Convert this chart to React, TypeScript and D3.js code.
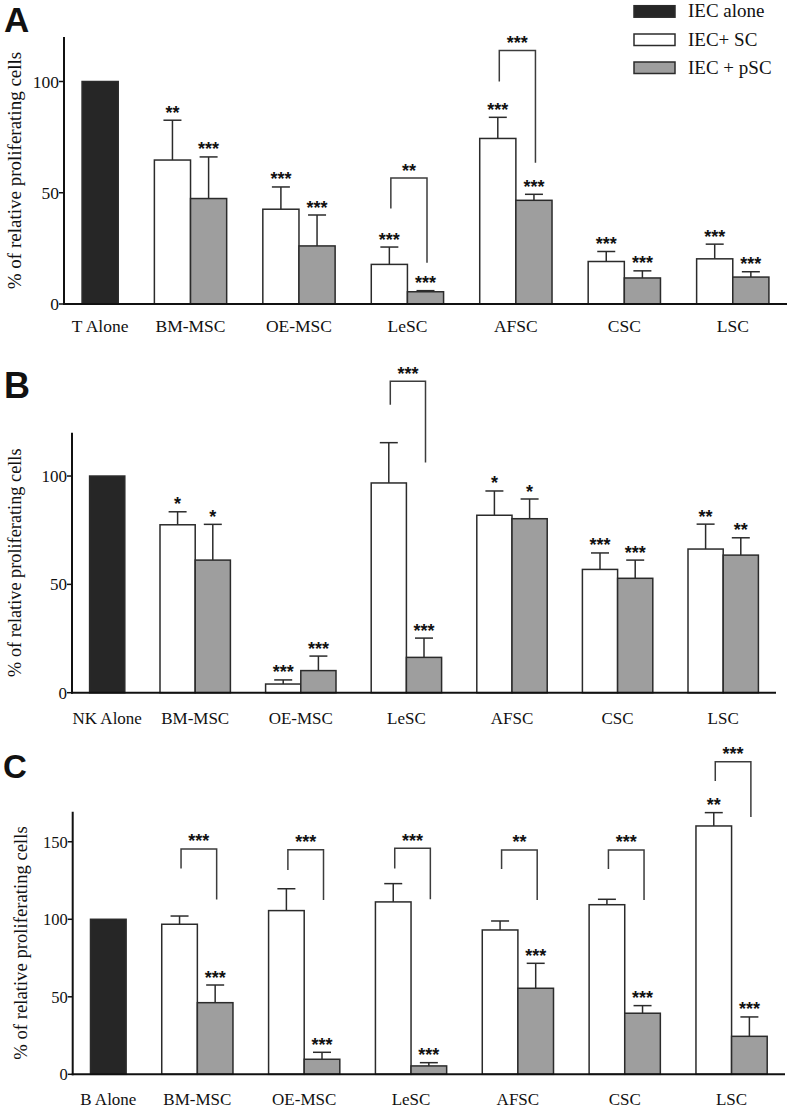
import React from 'react';
import * as d3 from 'd3';

// ---------- data ----------
const categories = ['BM-MSC', 'OE-MSC', 'LeSC', 'AFSC', 'CSC', 'LSC'];
const aloneLabels = ['T Alone', 'NK Alone', 'B Alone'];
const aloneValue = 100;
const legendLabels = ['IEC alone', 'IEC+ SC', 'IEC + pSC'];

// Panel A (T cells)
const scA = [64.7, 42.6, 17.8, 74.4, 19.1, 20.3];
const scErrA = [17.9, 10.0, 7.8, 9.5, 4.5, 6.6];
const pscA = [47.4, 26.1, 5.5, 46.6, 11.7, 12.1];
const pscErrA = [18.7, 13.9, 0.5, 2.7, 3.2, 2.4];
const scStarsA = ['**', '***', '***', '***', '***', '***'];
const pscStarsA = ['***', '***', '***', '***', '***', '***'];
const bracketsA = [
  { cat: 'LeSC', top: 56.6, left: 42.9, right: 18.5, label: '**' },
  { cat: 'AFSC', top: 113.9, left: 100.0, right: 63.5, label: '***' },
];
const ticksA = [0, 50, 100];

// Panel B (NK cells)
const scB = [77.5, 4.0, 96.8, 81.9, 56.9, 66.3];
const scErrB = [6.0, 1.9, 18.6, 11.2, 7.6, 11.5];
const pscB = [61.2, 10.2, 16.3, 80.3, 52.8, 63.5];
const pscErrB = [16.5, 6.7, 8.9, 9.1, 8.4, 8.0];
const scStarsB = ['*', '***', '', '*', '***', '**'];
const pscStarsB = ['*', '***', '***', '*', '***', '**'];
const bracketsB = [{ cat: 'LeSC', top: 143.7, left: 132.9, right: 106.3, label: '***' }];
const ticksB = [0, 50, 100];

// Panel C (B cells)
const scC = [96.8, 105.6, 111.2, 93.1, 109.4, 160.2];
const scErrC = [5.3, 14.1, 11.8, 5.8, 3.5, 8.6];
const pscC = [46.2, 9.7, 5.4, 55.5, 39.4, 24.5];
const pscErrC = [11.4, 4.5, 2.1, 16.1, 4.9, 12.5];
const scStarsC = ['', '', '', '', '', '**'];
const pscStarsC = ['***', '***', '***', '***', '***', '***'];
const bracketsC = [
  { cat: 'BM-MSC', top: 145.4, left: 132.8, right: 112.8, label: '***' },
  { cat: 'OE-MSC', top: 144.9, left: 131.8, right: 112.5, label: '***' },
  { cat: 'LeSC', top: 145.9, left: 132.8, right: 113.0, label: '***' },
  { cat: 'AFSC', top: 144.7, left: 132.4, right: 112.5, label: '**' },
  { cat: 'CSC', top: 144.7, left: 132.4, right: 112.5, label: '***' },
  { cat: 'LSC', top: 201.7, left: 189.2, right: 166.0, label: '***' },
];
const ticksC = [0, 50, 100, 150];

// ---------- styles ----------
const SERIF = '"Liberation Serif", "Times New Roman", serif';
const SANS = '"Liberation Sans", Arial, sans-serif';
const BLACK_FILL = '#262626';
const GRAY_FILL = '#9e9e9e';
const STROKE = '#2b2b2b';
const BRACKET = '#3c3c3c';

const panels = [
  {
    letter: 'A', letterX: 4, letterY: 32, letterSize: 35,
    axisX: 64, axisEnd: 787, y0: 304, yTop: 37, yMax: 120,
    ticks: ticksA, tickSize: 17.5, catSize: 17.5, catBaseline: 332,
    titleSize: 19, titleX: 21, aloneLabel: aloneLabels[0],
    sc: scA, scErr: scErrA, psc: pscA, pscErr: pscErrA,
    scStars: scStarsA, pscStars: pscStarsA, brackets: bracketsA,
  },
  {
    letter: 'B', letterX: 4, letterY: 398, letterSize: 36,
    axisX: 72, axisEnd: 776, y0: 692.7, yTop: 432.7, yMax: 120,
    ticks: ticksB, tickSize: 17, catSize: 17, catBaseline: 724,
    titleSize: 18.3, titleX: 21, aloneLabel: aloneLabels[1],
    sc: scB, scErr: scErrB, psc: pscB, pscErr: pscErrB,
    scStars: scStarsB, pscStars: pscStarsB, brackets: bracketsB,
  },
  {
    letter: 'C', letterX: 3, letterY: 778, letterSize: 33,
    axisX: 72.7, axisEnd: 785, y0: 1074.3, yTop: 811.7, yMax: 169.4,
    ticks: ticksC, tickSize: 16.5, catSize: 17, catBaseline: 1105,
    titleSize: 18.7, titleX: 27, aloneLabel: aloneLabels[2],
    sc: scC, scErr: scErrC, psc: pscC, pscErr: pscErrC,
    scStars: scStarsC, pscStars: pscStarsC, brackets: bracketsC,
  },
];

const STAR_SIZE = 18;

function Panel({ p }: { p: any }) {
  const y = d3.scaleLinear().domain([0, p.yMax]).range([p.y0, p.yTop]);
  // slot units: 0.5 pad, alone bar (1), gap (1), then 6 pairs (2) separated by 1, 0.5 pad
  const x = d3.scaleLinear().domain([0, 20]).range([p.axisX, p.axisEnd]);
  const catIndex = (c: string) => categories.indexOf(c);
  const whiteStart = (i: number) => 2.5 + 3 * i;
  const barW = x(1) - x(0);
  const capHalf = 9;

  const bars: any[] = [];
  categories.forEach((c, i) => {
    bars.push({ key: c + 'sc', x0: x(whiteStart(i)), v: p.sc[i], e: p.scErr[i], star: p.scStars[i], fill: '#ffffff' });
    bars.push({ key: c + 'psc', x0: x(whiteStart(i) + 1), v: p.psc[i], e: p.pscErr[i], star: p.pscStars[i], fill: GRAY_FILL });
  });

  return (
    <g>
      <text x={p.letterX} y={p.letterY} fontFamily={SANS} fontWeight="bold" fontSize={p.letterSize} fill="#111">{p.letter}</text>
      {/* y title */}
      <text
        transform={`translate(${p.titleX},${(p.y0 + p.yTop) / 2}) rotate(-90)`}
        textAnchor="middle" fontFamily={SERIF} fontSize={p.titleSize} fill="#111"
      >% of relative proliferating cells</text>
      {/* alone bar */}
      <rect x={x(0.5)} y={y(aloneValue)} width={barW} height={y(0) - y(aloneValue)} fill={BLACK_FILL} stroke={STROKE} strokeWidth={1.5} />
      {/* bars with error */}
      {bars.map((b) => {
        const cx = b.x0 + barW / 2;
        const eTop = y(b.v + b.e);
        return (
          <g key={b.key}>
            <line x1={cx} x2={cx} y1={y(b.v)} y2={eTop} stroke={STROKE} strokeWidth={1.5} />
            <line x1={cx - capHalf} x2={cx + capHalf} y1={eTop} y2={eTop} stroke={STROKE} strokeWidth={1.5} />
            <rect x={b.x0} y={y(b.v)} width={barW} height={y(0) - y(b.v)} fill={b.fill} stroke={STROKE} strokeWidth={1.5} />
            {b.star && (
              <text x={cx} y={eTop - 1.5} textAnchor="middle" fontFamily={SANS} fontWeight="bold" fontSize={STAR_SIZE} fill="#111">{b.star}</text>
            )}
          </g>
        );
      })}
      {/* brackets */}
      {p.brackets.map((br: any) => {
        const i = catIndex(br.cat);
        const lx = x(whiteStart(i) + 0.5) + 1.5;
        const rx = x(whiteStart(i) + 1.5) + 1.5;
        const ty = y(br.top);
        return (
          <g key={'br' + br.cat}>
            <path d={`M${lx},${y(br.left)}V${ty}H${rx}V${y(br.right)}`} fill="none" stroke={BRACKET} strokeWidth={1.5} />
            <text x={(lx + rx) / 2} y={ty - 1.5} textAnchor="middle" fontFamily={SANS} fontWeight="bold" fontSize={STAR_SIZE} fill="#111">{br.label}</text>
          </g>
        );
      })}
      {/* axes */}
      <line x1={p.axisX} x2={p.axisX} y1={p.yTop} y2={p.y0 + 1} stroke="#111" strokeWidth={2} />
      <line x1={p.axisX - 1} x2={p.axisEnd} y1={p.y0} y2={p.y0} stroke="#111" strokeWidth={2} />
      {p.ticks.map((t: number) => (
        <g key={'t' + t}>
          <line x1={p.axisX - 5} x2={p.axisX} y1={y(t)} y2={y(t)} stroke="#111" strokeWidth={1.5} />
          <text x={p.axisX - 5} y={y(t)} dy="0.35em" textAnchor="end" fontFamily={SERIF} fontSize={p.tickSize} fill="#111">{t}</text>
        </g>
      ))}
      {/* category labels */}
      <text x={x(1)} y={p.catBaseline} textAnchor="middle" fontFamily={SERIF} fontSize={p.catSize} fill="#111">{p.aloneLabel}</text>
      {categories.map((c, i) => (
        <text key={'c' + c} x={x(whiteStart(i) + 1)} y={p.catBaseline} textAnchor="middle" fontFamily={SERIF} fontSize={p.catSize} fill="#111">{c}</text>
      ))}
    </g>
  );
}

function Legend() {
  const fills = [BLACK_FILL, '#ffffff', GRAY_FILL];
  const rows = [5.7, 34, 62];
  return (
    <g>
      {legendLabels.map((l, i) => (
        <g key={l}>
          <rect x={634} y={rows[i]} width={41} height={11.5} fill={fills[i]} stroke={STROKE} strokeWidth={1.5} />
          <text x={688} y={rows[i] + 11.5} fontFamily={SERIF} fontSize={19} fill="#111">{l}</text>
        </g>
      ))}
    </g>
  );
}

export default function App() {
  return (
    <svg width={792} height={1109} style={{ position: 'absolute', left: 0, top: 0, background: '#fff' }}>
      <rect x={0} y={0} width={792} height={1109} fill="#fff" />
      {panels.map((p) => (
        <Panel key={p.letter} p={p} />
      ))}
      <Legend />
    </svg>
  );
}
